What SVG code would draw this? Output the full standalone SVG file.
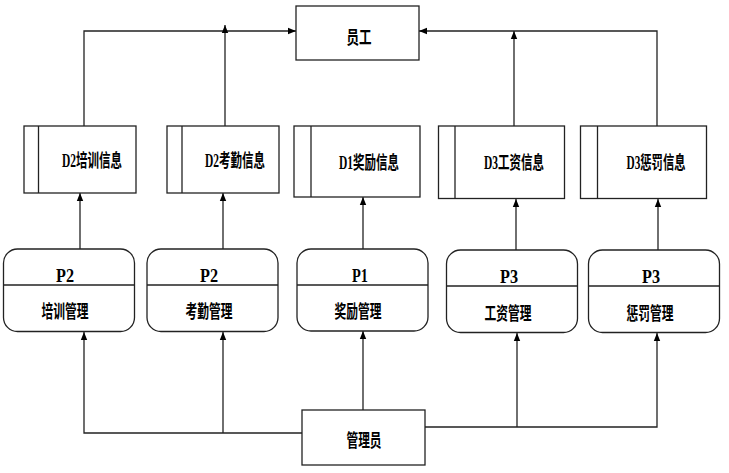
<svg xmlns="http://www.w3.org/2000/svg" width="729" height="473" viewBox="0 0 729 473">
<defs>
<style>
.box{fill:#fff;stroke:#222;stroke-width:1.3}
.ln{fill:none;stroke:#222;stroke-width:1.3}
.t{font-family:"Liberation Serif","Noto Sans CJK SC",serif;font-size:18px;font-weight:bold;fill:#000;text-anchor:middle}
</style>
<marker id="ah" viewBox="0 0 10 10" refX="10" refY="5" markerWidth="8" markerHeight="8" markerUnits="userSpaceOnUse" orient="auto">
<path d="M0,1 L10,5 L0,9 z" fill="#000"/>
</marker>
</defs>
<rect width="729" height="473" fill="#fff"/>
<g id="connectors">
<polyline class="ln" points="84,126 84,31 296,31" marker-end="url(#ah)"/>
<line class="ln" x1="225" y1="126" x2="225" y2="25" marker-end="url(#ah)"/>
<polyline class="ln" points="657,126 657,31 419,31" marker-end="url(#ah)"/>
<line class="ln" x1="514" y1="133" x2="514" y2="31" marker-end="url(#ah)"/>
<line class="ln" x1="80" y1="249" x2="80" y2="193" marker-end="url(#ah)"/>
<line class="ln" x1="223" y1="249" x2="223" y2="193" marker-end="url(#ah)"/>
<line class="ln" x1="363" y1="249" x2="363" y2="197" marker-end="url(#ah)"/>
<line class="ln" x1="516" y1="250" x2="516" y2="199" marker-end="url(#ah)"/>
<line class="ln" x1="658" y1="250" x2="658" y2="199" marker-end="url(#ah)"/>
<polyline class="ln" points="302,433 84,433 84,332" marker-end="url(#ah)"/>
<line class="ln" x1="223" y1="433" x2="223" y2="332" marker-end="url(#ah)"/>
<line class="ln" x1="363" y1="410" x2="363" y2="331" marker-end="url(#ah)"/>
<polyline class="ln" points="425,427 657,427 657,333" marker-end="url(#ah)"/>
<line class="ln" x1="517" y1="427" x2="517" y2="333" marker-end="url(#ah)"/>
</g>
<g id="staff">
<rect class="box" x="296" y="6" width="123" height="54"/>
<text class="t" x="359" y="44" textLength="25" lengthAdjust="spacingAndGlyphs">员工</text>
</g>
<g id="d2-training">
<rect class="box" x="24" y="126" width="112" height="67"/>
<line class="ln" x1="38.5" y1="126" x2="38.5" y2="193"/>
<text class="t" x="92" y="167" textLength="60" lengthAdjust="spacingAndGlyphs">D2培训信息</text>
</g>
<g id="d2-attendance">
<rect class="box" x="167" y="126" width="112" height="67"/>
<line class="ln" x1="182" y1="126" x2="182" y2="193"/>
<text class="t" x="235" y="167" textLength="60" lengthAdjust="spacingAndGlyphs">D2考勤信息</text>
</g>
<g id="d1-reward">
<rect class="box" x="294" y="126" width="126" height="71"/>
<line class="ln" x1="311" y1="126" x2="311" y2="197"/>
<text class="t" x="369" y="169" textLength="60" lengthAdjust="spacingAndGlyphs">D1奖励信息</text>
</g>
<g id="d3-salary">
<rect class="box" x="438.5" y="126" width="126" height="72.5"/>
<line class="ln" x1="455" y1="126" x2="455" y2="198.5"/>
<text class="t" x="514" y="169" textLength="60" lengthAdjust="spacingAndGlyphs">D3工资信息</text>
</g>
<g id="d3-penalty">
<rect class="box" x="580.5" y="126" width="126" height="72.5"/>
<line class="ln" x1="597.5" y1="126" x2="597.5" y2="198.5"/>
<text class="t" x="656" y="169" textLength="59" lengthAdjust="spacingAndGlyphs">D3惩罚信息</text>
</g>
<g id="p2-training">
<rect class="box" x="3.5" y="249" width="131" height="82.5" rx="14"/>
<line class="ln" x1="3.5" y1="285" x2="134.5" y2="285"/>
<text class="t" x="65" y="282" textLength="18" lengthAdjust="spacingAndGlyphs">P2</text>
<text class="t" x="65" y="318" textLength="47" lengthAdjust="spacingAndGlyphs">培训管理</text>
</g>
<g id="p2-attendance">
<rect class="box" x="147" y="249" width="131" height="82.5" rx="14"/>
<line class="ln" x1="147" y1="285" x2="278" y2="285"/>
<text class="t" x="209" y="282" textLength="18" lengthAdjust="spacingAndGlyphs">P2</text>
<text class="t" x="209" y="318" textLength="47" lengthAdjust="spacingAndGlyphs">考勤管理</text>
</g>
<g id="p1-reward">
<rect class="box" x="297" y="249" width="131" height="82" rx="14"/>
<line class="ln" x1="297" y1="285" x2="428" y2="285"/>
<text class="t" x="360" y="282" textLength="16" lengthAdjust="spacingAndGlyphs">P1</text>
<text class="t" x="358" y="318" textLength="47" lengthAdjust="spacingAndGlyphs">奖励管理</text>
</g>
<g id="p3-salary">
<rect class="box" x="446.5" y="250" width="131" height="82.5" rx="14"/>
<line class="ln" x1="446.5" y1="286" x2="577.5" y2="286"/>
<text class="t" x="509" y="283" textLength="18" lengthAdjust="spacingAndGlyphs">P3</text>
<text class="t" x="508" y="320" textLength="47" lengthAdjust="spacingAndGlyphs">工资管理</text>
</g>
<g id="p3-penalty">
<rect class="box" x="588.5" y="250" width="131" height="82.5" rx="14"/>
<line class="ln" x1="588.5" y1="286" x2="719.5" y2="286"/>
<text class="t" x="651" y="283" textLength="18" lengthAdjust="spacingAndGlyphs">P3</text>
<text class="t" x="650" y="320" textLength="47" lengthAdjust="spacingAndGlyphs">惩罚管理</text>
</g>
<g id="admin">
<rect class="box" x="302" y="410" width="123" height="55"/>
<text class="t" x="364" y="447" textLength="35" lengthAdjust="spacingAndGlyphs">管理员</text>
</g>
</svg>
